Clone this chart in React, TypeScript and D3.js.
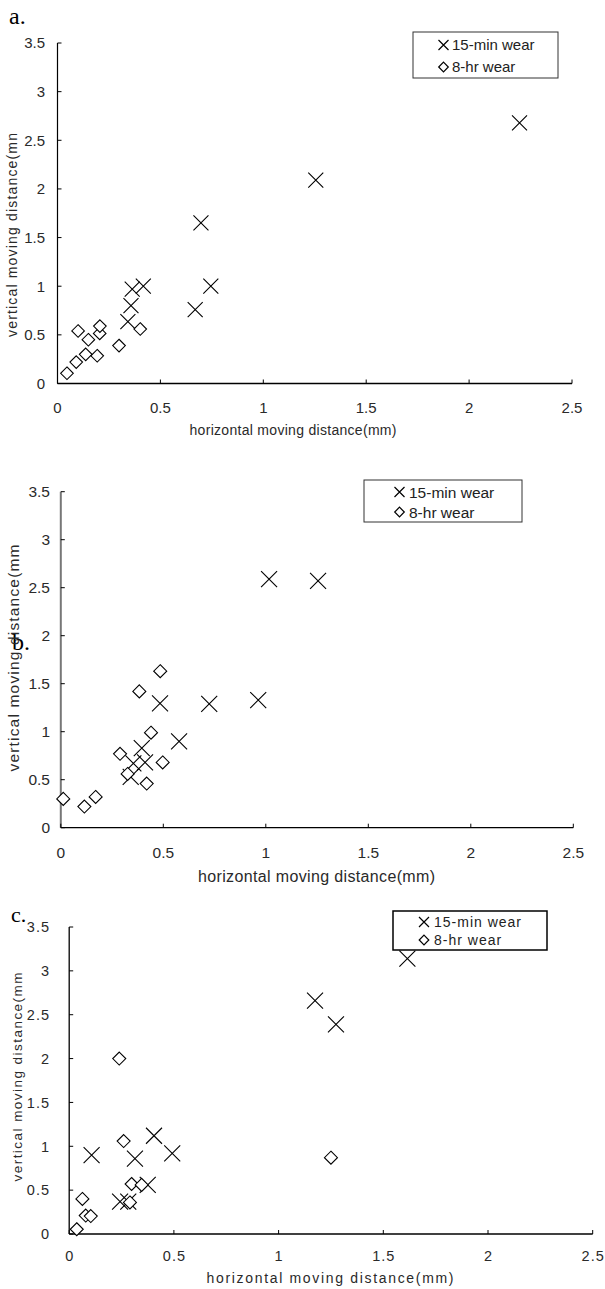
import React from "react";
import * as d3 from "d3";

// ---------- data ----------
const xTickValues = [0, 0.5, 1, 1.5, 2, 2.5];
const yTickValues = [0, 0.5, 1, 1.5, 2, 2.5, 3, 3.5];
const seriesNames = ["15-min wear", "8-hr wear"];
const panelLetters = ["a.", "b.", "c."];
const xTitle = "horizontal moving distance(mm)";
const yTitles = ["vertical moving distance(mn", "vertical moving distance(mm", "vertical moving distance(mm"];

// panel a
const aMinX = [0.697, 0.745, 0.669, 0.417, 0.363, 0.357, 0.342, 1.255, 2.245];
const aMinY = [1.65, 1.0, 0.76, 1.0, 0.97, 0.8, 0.635, 2.09, 2.68];
const aHrX = [0.046, 0.091, 0.1, 0.137, 0.15, 0.193, 0.205, 0.206, 0.299, 0.402];
const aHrY = [0.105, 0.22, 0.54, 0.3, 0.45, 0.285, 0.515, 0.59, 0.39, 0.56];

// panel b
const bMinX = [0.484, 0.724, 0.963, 0.577, 0.411, 0.341, 0.395, 0.354, 1.016, 1.255];
const bMinY = [1.296, 1.29, 1.33, 0.9, 0.68, 0.53, 0.83, 0.67, 2.59, 2.57];
const bHrX = [0.012, 0.115, 0.17, 0.289, 0.326, 0.419, 0.497, 0.44, 0.383, 0.485];
const bHrY = [0.3, 0.22, 0.32, 0.77, 0.56, 0.46, 0.68, 0.99, 1.42, 1.63];

// panel c
const cMinX = [0.107, 0.405, 0.314, 0.492, 0.375, 0.243, 0.282, 1.174, 1.274, 1.615];
const cMinY = [0.9, 1.12, 0.86, 0.92, 0.56, 0.37, 0.37, 2.66, 2.39, 3.14];
const cHrX = [0.036, 0.063, 0.079, 0.103, 0.239, 0.26, 0.298, 0.346, 0.29, 1.25];
const cHrY = [0.054, 0.4, 0.21, 0.205, 2.0, 1.06, 0.57, 0.56, 0.36, 0.87];

const panelData = [
  { minX: aMinX, minY: aMinY, hrX: aHrX, hrY: aHrY },
  { minX: bMinX, minY: bMinY, hrX: bHrX, hrY: bHrY },
  { minX: cMinX, minY: cMinY, hrX: cHrX, hrY: cHrY },
];

// ---------- layout ----------
const FONT = "'Liberation Sans', Arial, sans-serif";
const layouts = [
  {
    x0: 57.5, x1: 572, yb: 383.5, yt: 43,
    yLabX: 45, xLabY: 413, ls: 0, fs: 15,
    xTitleX: 293, xTitleY: 435, xTitleLen: 207, xTitleFs: 14,
    yTitleX: 17, yTitleC: 235, yTitleLen: 204, yTitleFs: 14,
    letterX: 9, letterY: 24, letterFs: 24,
    yAxisColor: "#000", yAxisW: 1.2,
    legend: { x: 413, y: 32, w: 145, h: 46, mx: 443.5, tx: 452, r1: 45, r2: 67, fs: 15, stroke: "#333", sw: 1 },
    cross: 7.5, dia: 6.3,
  },
  {
    x0: 60.8, x1: 573.3, yb: 827.7, yt: 491.7,
    yLabX: 50, xLabY: 858, ls: 0, fs: 15.5,
    xTitleX: 316.5, xTitleY: 882, xTitleLen: 237, xTitleFs: 16,
    yTitleX: 19, yTitleC: 658, yTitleLen: 227, yTitleFs: 15.5,
    letterX: 12, letterY: 650, letterFs: 24,
    yAxisColor: "#777", yAxisW: 2,
    legend: { x: 364, y: 480, w: 158, h: 42, mx: 399.5, tx: 409, r1: 492, r2: 512, fs: 15.5, stroke: "#333", sw: 1 },
    cross: 8, dia: 6.5,
  },
  {
    x0: 69.2, x1: 592.7, yb: 1234, yt: 927,
    yLabX: 50, xLabY: 1261, ls: 1, fs: 14.5,
    xTitleX: 330, xTitleY: 1283, xTitleLen: 247, xTitleFs: 14,
    yTitleX: 22, yTitleC: 1077, yTitleLen: 209, yTitleFs: 13.5,
    letterX: 11, letterY: 922, letterFs: 22,
    yAxisColor: "#000", yAxisW: 1.3,
    legend: { x: 393, y: 911, w: 154, h: 39, mx: 424, tx: 434, r1: 922, r2: 940, fs: 14, stroke: "#000", sw: 1.5 },
    cross: 8, dia: 6.5,
  },
];

function Cross({ x, y, s, w = 1.1 }: { x: number; y: number; s: number; w?: number }) {
  return (
    <path
      d={`M${x - s},${y - s}L${x + s},${y + s}M${x - s},${y + s}L${x + s},${y - s}`}
      stroke="#000"
      strokeWidth={w}
      fill="none"
    />
  );
}

function Diamond({ x, y, s, w = 1.1 }: { x: number; y: number; s: number; w?: number }) {
  return (
    <path
      d={`M${x},${y - s}L${x + s},${y}L${x},${y + s}L${x - s},${y}Z`}
      stroke="#000"
      strokeWidth={w}
      fill="#fff"
    />
  );
}

function Panel({ idx }: { idx: number }) {
  const L = layouts[idx];
  const D = panelData[idx];
  const xs = d3.scaleLinear().domain([0, 2.5]).range([L.x0, L.x1]);
  const ys = d3.scaleLinear().domain([0, 3.5]).range([L.yb, L.yt]);
  const fmt = (v: number) => String(v);
  const lg = L.legend;
  return (
    <g fontFamily={FONT} fill="#222">
      <text x={L.letterX} y={L.letterY} fontFamily="'Liberation Serif', 'DejaVu Serif', serif" fontSize={L.letterFs} fill="#000">
        {panelLetters[idx]}
      </text>
      <line x1={L.x0} x2={L.x0} y1={L.yt} y2={L.yb} stroke={L.yAxisColor} strokeWidth={L.yAxisW} />
      {yTickValues.map((t) => (
        <g key={"y" + t}>
          <line x1={L.x0} x2={L.x0 + 4} y1={ys(t)} y2={ys(t)} stroke="#000" strokeWidth={1} />
          <text x={L.yLabX} y={ys(t)} dy="0.36em" textAnchor="end" fontSize={L.fs} letterSpacing={L.ls} fill="#2a2a2a">
            {fmt(t)}
          </text>
        </g>
      ))}
      <line x1={L.x0} x2={L.x1} y1={L.yb} y2={L.yb} stroke="#000" strokeWidth={1.3} />
      {xTickValues.map((t) => (
        <g key={"x" + t}>
          <line x1={xs(t)} x2={xs(t)} y1={L.yb} y2={L.yb - 4} stroke="#000" strokeWidth={1} />
          <text x={xs(t) + (L.ls ? L.ls / 2 : 0)} y={L.xLabY} textAnchor="middle" fontSize={L.fs} letterSpacing={L.ls} fill="#2a2a2a">
            {fmt(t)}
          </text>
        </g>
      ))}
      <text
        x={L.xTitleX}
        y={L.xTitleY}
        textAnchor="middle"
        fontSize={L.xTitleFs}
        textLength={L.xTitleLen}
        lengthAdjust="spacing"
        fill="#2a2a2a"
      >
        {xTitle}
      </text>
      <text
        transform={`translate(${L.yTitleX},${L.yTitleC}) rotate(-90)`}
        textAnchor="middle"
        fontSize={L.yTitleFs}
        textLength={L.yTitleLen}
        lengthAdjust="spacing"
        fill="#2a2a2a"
      >
        {yTitles[idx]}
      </text>
      {D.minX.map((v, i) => (
        <Cross key={"c" + i} x={xs(v)} y={ys(D.minY[i])} s={L.cross} />
      ))}
      {D.hrX.map((v, i) => (
        <Diamond key={"d" + i} x={xs(v)} y={ys(D.hrY[i])} s={L.dia} />
      ))}
      <rect x={lg.x} y={lg.y} width={lg.w} height={lg.h} fill="none" stroke={lg.stroke} strokeWidth={lg.sw} />
      <Cross x={lg.mx} y={lg.r1} s={5} w={1.2} />
      <text x={lg.tx} y={lg.r1} dy="0.36em" fontSize={lg.fs} letterSpacing={L.ls} fill="#222">
        {seriesNames[0]}
      </text>
      <Diamond x={lg.mx} y={lg.r2} s={4.8} w={1.2} />
      <text x={lg.tx} y={lg.r2} dy="0.36em" fontSize={lg.fs} letterSpacing={L.ls} fill="#222">
        {seriesNames[1]}
      </text>
    </g>
  );
}

export default function App() {
  return (
    <svg
      width={605}
      height={1289}
      viewBox="0 0 605 1289"
      style={{ position: "absolute", left: 0, top: 0, background: "#fff" }}
    >
      <rect width={605} height={1289} fill="#fff" />
      <Panel idx={0} />
      <Panel idx={1} />
      <Panel idx={2} />
    </svg>
  );
}
